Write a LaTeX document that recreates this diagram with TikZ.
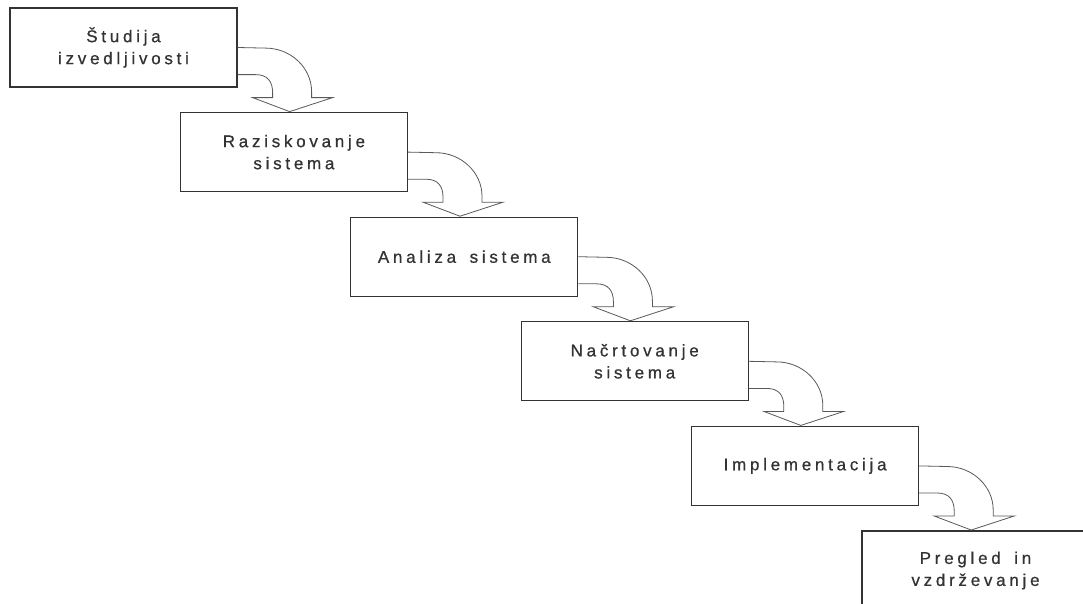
\documentclass[tikz,border=0pt]{standalone}
\usepackage{fontspec}
\setmainfont{Liberation Sans}[LetterSpace=22, WordSpace=1.6, FakeBold=0.7]
\usetikzlibrary{calc}
\newcommand\flowarrow[1]{%
\draw[flow] (#1.east) -- ($(#1.south east)+(28,-39.5)$)
 .. controls ($(#1.south east)+(53,-39.5)$) and ($(#1.south east)+(74,-20)$) .. ($(#1.south east)+(74,4)$)
 -- ($(#1.south east)+(74,10)$) -- ($(#1.south east)+(95,10)$) -- ($(#1.south east)+(52,24)$)
 -- ($(#1.south east)+(15,10)$) -- ($(#1.south east)+(35,10)$) -- ($(#1.south east)+(35,5)$)
 .. controls ($(#1.south east)+(35,-6)$) and ($(#1.south east)+(30,-13)$) .. ($(#1.south east)+(18,-13)$)
 -- ($(#1.south east)+(0,-13)$);}
\begin{document}
\begin{tikzpicture}[x=1pt,y=-1pt,
  stage/.style={draw=black!80, line width=1.2pt, fill=white, minimum width=227pt,
    minimum height=79pt, inner sep=0pt, align=center,
    font=\fontsize{17}{22}\selectfont, text=black!80},
  flow/.style={draw=black!65, line width=0.8pt, line join=miter}]
\useasboundingbox (0,0) rectangle (1083,603);
\clip (0,0) rectangle (1083,603);
\fill[white] (0,0) rectangle (1083,603);
\node[stage] (b1) at (123.5,47.5) {Študija\\izvedljivosti};
\node[stage] (b2) at (293.9,152.1) {Raziskovanje\\sistema};
\node[stage] (b3) at (464.3,256.7) {Analiza sistema};
\node[stage] (b4) at (634.7,361.3) {Načrtovanje\\sistema};
\node[stage] (b5) at (805.1,465.9) {Implementacija};
\node[stage] (b6) at (975.5,570.5) {Pregled in\\vzdrževanje};
\flowarrow{b1}
\flowarrow{b2}
\flowarrow{b3}
\flowarrow{b4}
\flowarrow{b5}
\end{tikzpicture}
\end{document}
